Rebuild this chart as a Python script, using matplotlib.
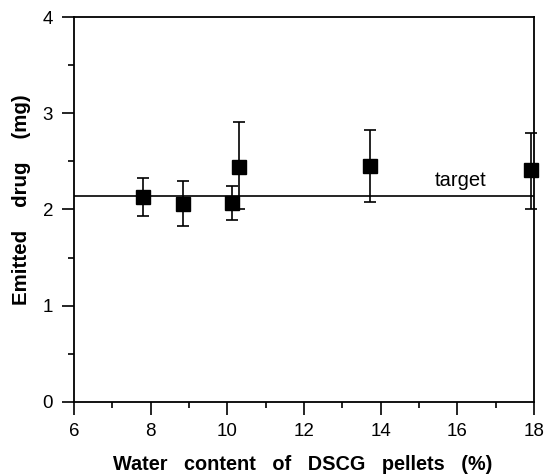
import matplotlib
matplotlib.use("Agg")
import matplotlib.pyplot as plt
from matplotlib.ticker import MultipleLocator

plt.rcParams['font.family'] = ['Liberation Sans', 'DejaVu Sans']

water = [7.81, 8.85, 10.13, 10.30, 13.72, 17.92]
emitted = [2.13, 2.06, 2.07, 2.445, 2.455, 2.41]
err_up = [0.20, 0.235, 0.175, 0.46, 0.375, 0.39]
err_lo = [0.195, 0.235, 0.175, 0.445, 0.375, 0.40]
target = 2.14

W, H = 546, 475
fig = plt.figure(figsize=(W / 100, H / 100), dpi=100)
ax = fig.add_axes([0.1355, 0.1537, 0.8425, 0.8105])

ax.axhline(target, color='black', lw=1.2, zorder=1)
ax.errorbar(water, emitted, yerr=[err_lo, err_up], fmt='s', color='black',
            ms=10, capsize=4, elinewidth=1.2, capthick=1.2, zorder=3,
            clip_on=False)
ax.text(15.42, target + 0.06, 'target', fontsize=14.5, va='bottom', ha='left')

ax.set_xlim(6, 18)
ax.set_ylim(0, 4)
ax.xaxis.set_major_locator(MultipleLocator(2))
ax.xaxis.set_minor_locator(MultipleLocator(1))
ax.yaxis.set_major_locator(MultipleLocator(1))
ax.yaxis.set_minor_locator(MultipleLocator(0.5))
ax.tick_params(which='major', direction='out', length=9, width=1.2, labelsize=13.5, pad=6)
ax.tick_params(which='minor', direction='out', length=4, width=1.2)
for s in ax.spines.values():
    s.set_linewidth(1.3)

fig.text(303 / W, 1 - 465 / H, 'Water   content   of   DSCG   pellets   (%)',
         fontsize=14.3, fontweight='bold', ha='center', va='center')
fig.text(22 / W, 1 - 200 / H, 'Emitted    drug    (mg)', fontsize=14.8,
         fontweight='bold', ha='center', va='center', rotation=90)

fig.savefig('out.png', dpi=100)
